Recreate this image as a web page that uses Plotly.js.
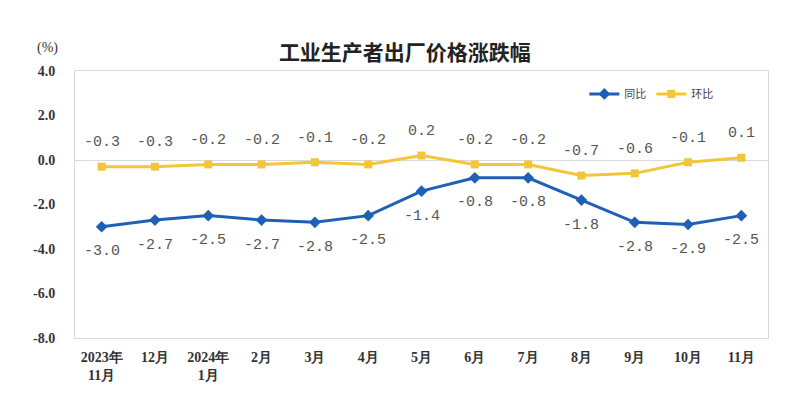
<!DOCTYPE html>
<html><head><meta charset="utf-8">
<script src="https://cdn.plot.ly/plotly-3.0.1.min.js"></script>
<style>html,body{margin:0;padding:0;background:#fff}#c{width:797px;height:405px}</style>
</head><body><div id="c"></div>
<script>
const categories = ["2023年<br>11月","12月","2024年<br>1月","2月","3月","4月","5月","6月","7月","8月","9月","10月","11月"];
const yoy = [-3.0,-2.7,-2.5,-2.7,-2.8,-2.5,-1.4,-0.8,-0.8,-1.8,-2.8,-2.9,-2.5];
const mom = [-0.3,-0.3,-0.2,-0.2,-0.1,-0.2,0.2,-0.2,-0.2,-0.7,-0.6,-0.1,0.1];
const yTicks = [4,2,0,-2,-4,-6,-8];
const yTickText = ["4.0","2.0","0.0","-2.0","-4.0","-6.0","-8.0"];

const blue = "#1f5fb5", yellow = "#f3c63a";
const traces = [
  {x: categories, y: yoy, name: "同比", type: "scatter", mode: "lines+markers",
   line: {color: blue, width: 3}, marker: {symbol: "diamond", size: 9, color: blue}},
  {x: categories, y: mom, name: "环比", type: "scatter", mode: "lines+markers",
   line: {color: yellow, width: 3}, marker: {symbol: "square", size: 8, color: yellow}}
];
const fmt = v => v.toFixed(1);
const labelFont = {family: "Liberation Mono, DejaVu Sans Mono, monospace", size: 15, color: "#555"};
const annotations = [];
categories.forEach((c, i) => {
  annotations.push({x: c, y: yoy[i], text: fmt(yoy[i]), showarrow: false, yshift: -25, font: labelFont});
  annotations.push({x: c, y: mom[i], text: fmt(mom[i]), showarrow: false, yshift: 24, font: labelFont});
});
annotations.push({xref: "paper", yref: "paper", x: -0.022, y: 1.086, xanchor: "right", yanchor: "middle",
  text: "(%)", showarrow: false, font: {family: "Liberation Serif, serif", size: 14, color: "#333"}});

const layout = {
  width: 797, height: 405,
  margin: {l: 75, r: 29, t: 71, b: 67},
  paper_bgcolor: "#fff", plot_bgcolor: "#fff",
  title: {text: "工业生产者出厂价格涨跌幅", x: 0.508, xanchor: "center", y: 0.87, yanchor: "middle",
    font: {family: "Noto Sans CJK SC", size: 21, color: "#222", weight: 700}},
  showlegend: true,
  legend: {orientation: "h", x: 0.735, xanchor: "left", y: 0.914, yanchor: "middle",
    font: {family: "Noto Sans CJK SC", size: 11, color: "#444"}, bgcolor: "rgba(0,0,0,0)", itemwidth: 30},
  xaxis: {type: "category", showgrid: false, zeroline: false, showline: true, mirror: true,
    linecolor: "#d9d9d9", linewidth: 1, ticks: "", ticklabelstandoff: 6,
    tickfont: {family: "Liberation Serif, serif", size: 14, color: "#333", weight: 700},
    range: [-0.5, 12.5]},
  yaxis: {range: [-8, 4], tickvals: yTicks, ticktext: yTickText, showgrid: false,
    zeroline: true, zerolinecolor: "#d9d9d9", zerolinewidth: 1,
    showline: true, mirror: true, linecolor: "#d9d9d9", linewidth: 1, ticks: "", ticklabelstandoff: 16,
    tickfont: {family: "Liberation Serif, serif", size: 14, color: "#333", weight: 700}},
  annotations: annotations
};
Plotly.newPlot("c", traces, layout, {displayModeBar: false, staticPlot: true});
</script></body></html>
